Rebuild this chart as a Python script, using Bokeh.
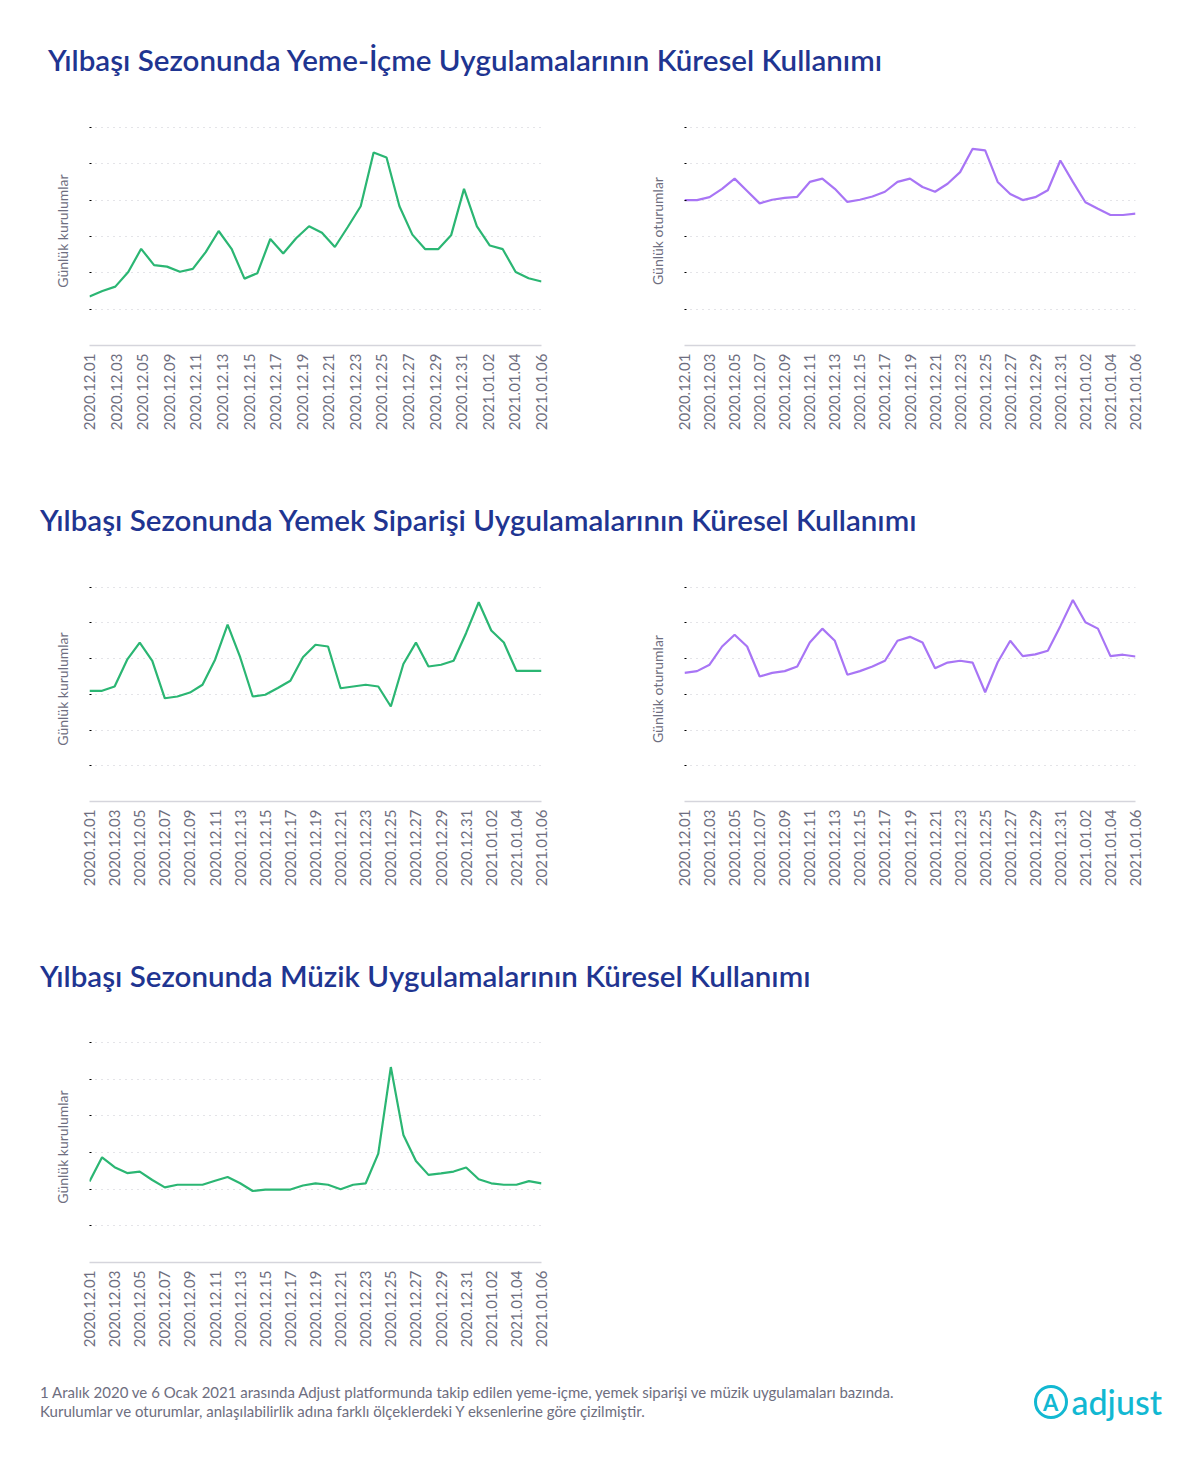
import math
from bokeh.plotting import figure
from bokeh.models import FixedTicker, Div, Range1d
from bokeh.layouts import column, row
from bokeh.embed import file_html
from bokeh.resources import INLINE

dates37 = ["2020.12.%02d" % d for d in range(1, 32)] + ["2021.01.%02d" % d for d in range(1, 7)]
labels37 = dates37[::2]
labels36 = ["2020.12.01", "2020.12.03", "2020.12.05", "2020.12.09", "2020.12.11", "2020.12.13",
            "2020.12.15", "2020.12.17", "2020.12.19", "2020.12.21", "2020.12.23", "2020.12.25",
            "2020.12.27", "2020.12.29", "2020.12.31", "2021.01.02", "2021.01.04", "2021.01.06"]

food_installs = [1.35, 1.5, 1.62, 2.02, 2.66, 2.21, 2.17, 2.03, 2.11, 2.57, 3.15, 2.66, 1.84, 1.99,
                 2.93, 2.53, 2.95, 3.28, 3.1, 2.71, 3.26, 3.83, 5.31, 5.17, 3.83, 3.05, 2.65, 2.65,
                 3.03, 4.31, 3.28, 2.75, 2.65, 2.02, 1.85, 1.76]
food_sessions = [4.0, 4.0, 4.08, 4.31, 4.59, 4.25, 3.91, 4.01, 4.06, 4.09, 4.5, 4.59, 4.31, 3.95,
                 4.01, 4.1, 4.23, 4.5, 4.59, 4.36, 4.23, 4.45, 4.77, 5.41, 5.37, 4.5, 4.17, 4.0,
                 4.08, 4.27, 5.09, 4.5, 3.94, 3.76, 3.59, 3.59, 3.63]
delivery_installs = [3.1, 3.1, 3.22, 3.97, 4.45, 3.94, 2.89, 2.94, 3.05, 3.27, 3.97, 4.95, 4.04, 2.94,
                     2.99, 3.18, 3.38, 4.04, 4.39, 4.34, 3.17, 3.22, 3.27, 3.22, 2.66, 3.85, 4.45,
                     3.78, 3.83, 3.94, 4.72, 5.58, 4.79, 4.45, 3.66, 3.66, 3.66]
delivery_sessions = [3.6, 3.65, 3.83, 4.34, 4.67, 4.34, 3.5, 3.6, 3.65, 3.78, 4.45, 4.84, 4.5, 3.55,
                     3.65, 3.78, 3.94, 4.5, 4.61, 4.45, 3.73, 3.89, 3.94, 3.89, 3.06, 3.9, 4.5,
                     4.07, 4.12, 4.22, 4.91, 5.64, 5.02, 4.84, 4.07, 4.11, 4.06]
music_installs = [2.21, 2.87, 2.6, 2.44, 2.48, 2.25, 2.05, 2.12, 2.12, 2.12, 2.23, 2.33, 2.16, 1.95,
                  1.99, 1.99, 1.99, 2.1, 2.16, 2.12, 2.0, 2.12, 2.16, 2.97, 5.33, 3.48, 2.77, 2.39,
                  2.43, 2.48, 2.59, 2.27, 2.16, 2.12, 2.12, 2.22, 2.16]

titles = ["Yılbaşı Sezonunda Yeme-İçme Uygulamalarının Küresel Kullanımı",
          "Yılbaşı Sezonunda Yemek Siparişi Uygulamalarının Küresel Kullanımı",
          "Yılbaşı Sezonunda Müzik Uygulamalarının Küresel Kullanımı"]
ylab_inst = "Günlük kurulumlar"
ylab_sess = "Günlük oturumlar"

GREEN = "#2bb673"
PURPLE = "#a875f5"
FONT = "Lato"
GRAY = "#6e6e80"


def panel(values, ylabel, color, labels, bl, fw, br, frame_h):
    n = len(values)
    p = figure(width=bl + fw + br, height=18 + frame_h + 98, output_backend="svg",
               toolbar_location=None, min_border_left=bl, min_border_right=br,
               min_border_top=18, min_border_bottom=98,
               x_range=Range1d(0, n - 1), y_range=Range1d(0, 6.3))
    p.outline_line_color = None
    p.line(list(range(n)), values, line_color=color, line_width=2.2)
    step = (n - 1) / (len(labels) - 1)
    ticks = [i * step for i in range(len(labels))]
    p.xaxis.ticker = FixedTicker(ticks=ticks)
    p.xaxis.major_label_overrides = {t: l for t, l in zip(ticks, labels)}
    p.xaxis.major_label_orientation = math.pi / 2
    p.xaxis.major_label_text_font = FONT
    p.xaxis.major_label_text_font_size = "15px"
    p.xaxis.major_label_text_color = GRAY
    p.xaxis.major_tick_out = 0
    p.xaxis.major_tick_in = 0
    p.xaxis.minor_tick_out = 0
    p.xaxis.minor_tick_in = 0
    p.xaxis.axis_line_color = "#d5d5dc"
    p.xaxis.axis_line_width = 1.5
    p.xaxis.major_label_standoff = 8
    p.yaxis.ticker = FixedTicker(ticks=[1, 2, 3, 4, 5, 6])
    p.yaxis.major_label_overrides = {k: "" for k in [1, 2, 3, 4, 5, 6]}
    p.yaxis.major_tick_out = 0
    p.yaxis.minor_tick_out = 0
    p.yaxis.axis_line_color = None
    p.yaxis.axis_label = ylabel
    p.yaxis.axis_label_text_font = FONT
    p.yaxis.axis_label_text_font_size = "14px"
    p.yaxis.axis_label_text_font_style = "normal"
    p.yaxis.axis_label_text_color = GRAY
    p.yaxis.axis_label_standoff = 19
    p.xgrid.grid_line_color = None
    p.ygrid.grid_line_color = "#c8c8d0"
    p.ygrid.grid_line_dash = "1 5"
    p.ygrid.grid_line_width = 1.2
    return p


def title_div(text, h, pad_top, left):
    return Div(text=text, width=1180, height=h, margin=(0, 0, 0, 0),
               styles={"font-family": FONT, "font-size": "29.5px", "font-weight": "600",
                       "color": "#1f3591", "padding-top": f"{pad_top}px",
                       "padding-left": f"{left}px", "white-space": "nowrap"})


t1 = title_div(titles[0], 98, 39, 48)
p1 = panel(food_installs, ylab_inst, GREEN, labels36, 89, 452, 49, 229)
p2 = panel(food_sessions, ylab_sess, PURPLE, labels37, 94, 451, 45, 229)
t2 = title_div(titles[1], 115, 56, 40)
p3 = panel(delivery_installs, ylab_inst, GREEN, labels37, 89, 452, 49, 225)
p4 = panel(delivery_sessions, ylab_sess, PURPLE, labels37, 94, 451, 45, 225)
t3 = title_div(titles[2], 114, 56, 40)
p5 = panel(music_installs, ylab_inst, GREEN, labels37, 89, 452, 49, 231)

footer_html = (
    '<div style="display:flex;justify-content:space-between;align-items:center;width:1122px;">'
    '<div style="font-family:Lato;font-size:15px;color:#6e6e80;line-height:19px;">'
    '1 Aralık 2020 ve 6 Ocak 2021 arasında Adjust platformunda takip edilen yeme-içme, yemek siparişi ve müzik uygulamaları bazında.<br>'
    'Kurulumlar ve oturumlar, anlaşılabilirlik adına farklı ölçeklerdeki Y eksenlerine göre çizilmiştir.</div>'
    '<div style="display:flex;align-items:center;color:#12b8d2;font-family:Lato;">'
    '<div style="width:34px;height:34px;border:3px solid #12b8d2;border-radius:50%;display:flex;'
    'align-items:center;justify-content:center;font-size:22px;font-weight:700;">A</div>'
    '<span style="font-size:34px;margin-left:4px;font-weight:500;">adjust</span></div></div>'
)
footer = Div(text=footer_html, width=1180, height=90, margin=(0, 0, 0, 0),
             styles={"padding-top": "18px", "padding-left": "40px"})

layout = column(t1, row(p1, p2), t2, row(p3, p4), t3, p5, footer, spacing=0)
open("out.html", "w").write(file_html(layout, INLINE))
